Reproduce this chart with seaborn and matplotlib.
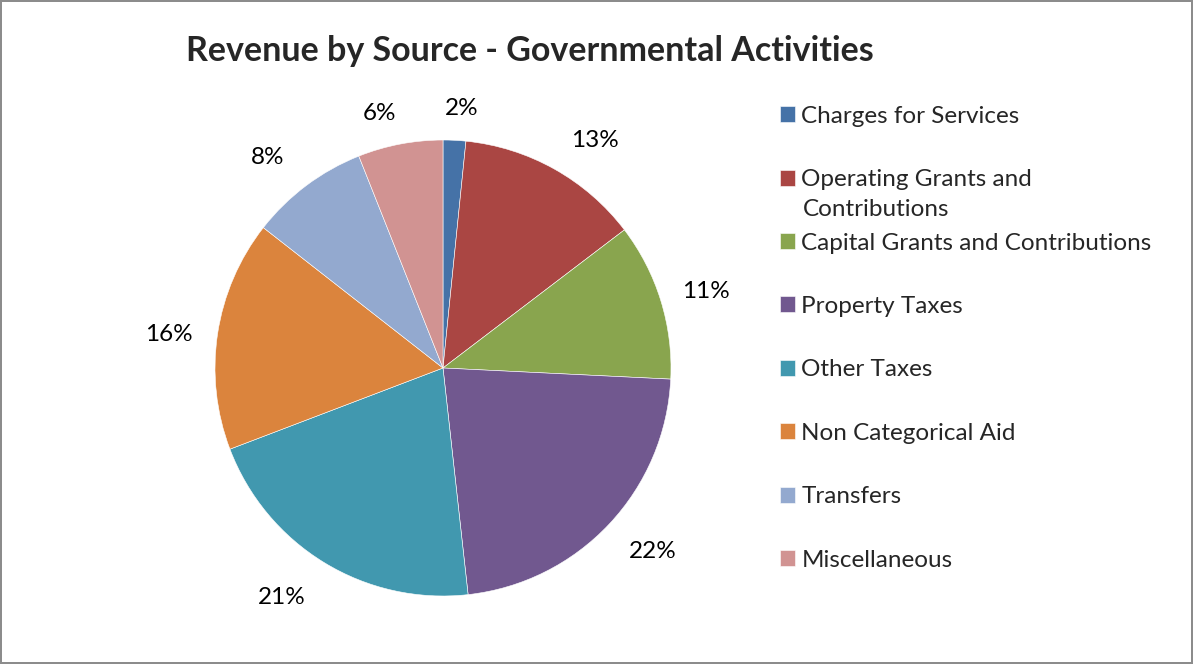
import numpy as np
import seaborn as sns
import matplotlib.pyplot as plt

# revenue shares (percent)
sources = ["Charges for Services", "Operating Grants and Contributions",
           "Capital Grants and Contributions", "Property Taxes", "Other Taxes",
           "Non Categorical Aid", "Transfers", "Miscellaneous"]
shares = [1.6, 13.0, 11.1, 22.4, 20.9, 16.3, 8.4, 6.0]
colors = ["#4572A7", "#AA4643", "#89A54E", "#71588F",
          "#4198AF", "#DB843D", "#93A9CF", "#D19392"]

def main():
    sns.set_theme(style="white")
    plt.rcParams['font.family'] = ['Lato', 'DejaVu Sans']
    palette = sns.color_palette(colors)

    fig = plt.figure(figsize=(11.93, 6.64), dpi=100,
                     edgecolor="#8c8c8c", linewidth=1.5)

    # pie centred at ~(443, 368) px, radius ~228 px
    W, H = 1193, 664
    ax = fig.add_axes([(443 - 228) / W, (H - 368 - 228) / H, 456 / W, 456 / H])
    wedges, _, pcts = ax.pie(shares, colors=palette, startangle=90, counterclock=False,
                             autopct='%.0f%%', pctdistance=1.2,
                             wedgeprops=dict(edgecolor="white", linewidth=0.4),
                             textprops=dict(fontsize=17.5, color="black"))
    # Excel's "best fit" puts labels a bit off the slice middle
    dist = [1.14, 1.20, 1.20, 1.22, 1.23, 1.21, 1.20, 1.15]
    nudge = [-1.3, -4.5, -0.9, 2.1, -3.8, 1.5, 3.0, 3.1]   # degrees, ccw
    for w, t, d, n in zip(wedges, pcts, dist, nudge):
        ang = np.deg2rad((w.theta1 + w.theta2) / 2 + n)
        t.set_position((d * np.cos(ang), d * np.sin(ang)))
    ax.set_xlim(-1, 1)
    ax.set_ylim(-1, 1)
    ax.set_aspect('equal')

    fig.text(530 / W, 1 - 51 / H, "Revenue by Source - Governmental Activities",
             ha='center', va='center', fontsize=24.5, fontweight='bold')

    # legend: the long label wraps onto a second line in the original
    labels = list(sources)
    labels[1] = "Operating Grants and"
    fig.legend(wedges, labels, loc='upper left',
               bbox_to_anchor=(770 / W, 1 - 96 / H), frameon=False,
               fontsize=17.5, handlelength=0.63, handleheight=0.63,
               handletextpad=0.26, labelspacing=1.745, borderaxespad=0)
    fig.text(803 / W, 1 - 210 / H, "Contributions", ha='left', va='center',
             fontsize=17.5)

    plt.savefig('out.png', dpi=100)

if __name__ == '__main__':
    main()
